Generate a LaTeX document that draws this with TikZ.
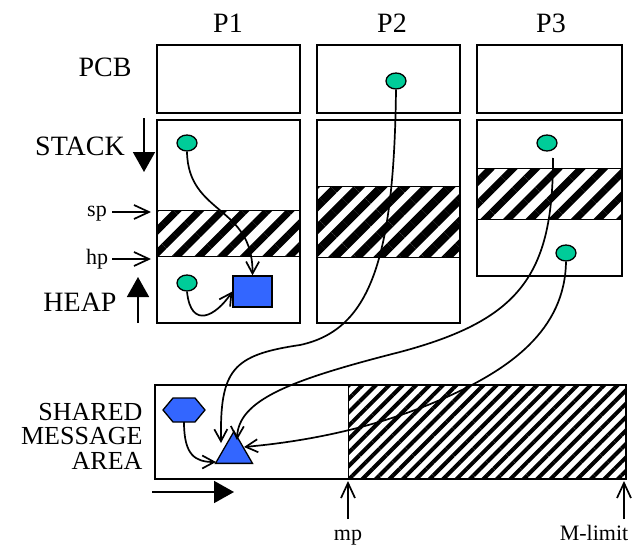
\documentclass[tikz,border=0pt]{standalone}
\usepackage{fontspec}
\setmainfont{Liberation Serif}
\usetikzlibrary{arrows.meta,patterns.meta,shapes.geometric}
\definecolor{dotgreen}{RGB}{0,204,153}
\definecolor{boxblue}{RGB}{51,102,255}

\begin{document}
\begin{tikzpicture}[x=1pt,y=-1pt,
  biglabel/.style={font=\fontsize{28}{32}\selectfont, anchor=base},
  arealabel/.style={font=\fontsize{26}{30}\selectfont, anchor=base east},
  smalllabel/.style={font=\fontsize{22}{26}\selectfont, anchor=base},
  pbox/.style={line width=2.6pt},
  pcbbox/.style={line width=1.6pt},
  sepline/.style={line width=0.8pt},
  wide hatch/.style={pattern={Lines[angle=45,distance=16pt,line width=7pt]}},
  bold hatch/.style={pattern={Lines[angle=45,distance=16pt,line width=8.5pt]}},
  fine hatch/.style={pattern={Lines[angle=45,distance=9.5pt,line width=4pt]}},
  ptrdot/.style={ellipse, draw, line width=1.3pt, fill=dotgreen,
    minimum width=20pt, minimum height=16pt, inner sep=0pt},
  link/.style={line width=1.7pt, -{Straight Barb[length=12pt,width=13pt]}},
  pointer/.style={line width=1.7pt, -{Straight Barb[length=15pt,width=14pt]}},
  growth/.style={line width=1.8pt, -{Triangle[length=20pt,width=22pt]}}]
  \useasboundingbox (0,0) rectangle (633,546);

  \node[biglabel] (lP1) at (228,32) {P1};
  \node[biglabel] (lP2) at (392,32) {P2};
  \node[biglabel] (lP3) at (551,32) {P3};
  \node[biglabel] (lPCB) at (105,76) {PCB};
  \node[biglabel] (lSTACK) at (80,155) {STACK};
  \node[biglabel] (lHEAP) at (80,311) {HEAP};
  \node[smalllabel] (lsp) at (97,216) {sp};
  \node[smalllabel] (lhp) at (97,264) {hp};
  \node[arealabel] (lSH) at (146,420) {SHARED};
  \node[arealabel] (lME) at (146,444) {MESSAGE};
  \node[arealabel] (lAR) at (146,469) {AREA};
  \node[smalllabel] (lmp) at (348,540) {mp};
  \node[smalllabel] (lML) at (594,540) {M-limit};

  % free areas
  \fill[wide hatch] (157,210) rectangle (300,256);
  \fill[bold hatch] (317,186) rectangle (460,257);
  \fill[wide hatch] (477,168) rectangle (622,219);
  \fill[fine hatch] (348,385) rectangle (626,479);

  \draw[pcbbox] (157,45) rectangle (300,113);
  \draw[pcbbox] (317,45) rectangle (460,113);
  \draw[pcbbox] (477,45) rectangle (622,113);

  \draw[pbox] (157,120) rectangle (300,323);
  \draw[pbox] (317,120) rectangle (460,323);
  \draw[pbox] (477,120) rectangle (622,276);
  \draw[sepline] (157,210) -- (300,210);
  \draw[sepline] (157,256) -- (300,256);
  \draw[sepline] (317,186) -- (460,186);
  \draw[sepline] (317,257) -- (460,257);
  \draw[sepline] (477,168) -- (622,168);
  \draw[sepline] (477,219) -- (622,219);

  \draw[pbox] (155,385) rectangle (626,479);
  \draw[sepline] (348,385) -- (348,479);

  \coordinate (stackA) at (144,118);
  \coordinate (stackB) at (144,172);
  \coordinate (heapA) at (138,323);
  \coordinate (heapB) at (138,277);
  \coordinate (msgA) at (152,492);
  \coordinate (msgB) at (234,492);
  \draw[growth] (stackA) -- (stackB);
  \draw[growth] (heapA) -- (heapB);
  \draw[growth] (msgA) -- (msgB);

  \coordinate (spA) at (112,212);
  \coordinate (spB) at (151,212);
  \coordinate (hpA) at (112,259);
  \coordinate (hpB) at (151,259);
  \coordinate (mpA) at (348,519);
  \coordinate (mpB) at (348,481);
  \coordinate (mlA) at (624,519);
  \coordinate (mlB) at (624,481);
  \draw[pointer] (spA) -- (spB);
  \draw[pointer] (hpA) -- (hpB);
  \draw[pointer] (mpA) -- (mpB);
  \draw[pointer] (mlA) -- (mlB);

  \node[ptrdot] (d1) at (187,143) {};
  \node[ptrdot] (d2) at (187,283) {};
  \node[ptrdot] (d3) at (396,81) {};
  \node[ptrdot] (d4) at (547,143) {};
  \node[ptrdot] (d5) at (566,253) {};
  \node[draw, line width=1.3pt, fill=boxblue, minimum width=39pt,
    minimum height=31pt, inner sep=0pt] (sq) at (252.5,291.5) {};
  \node[regular polygon, regular polygon sides=3, draw, line width=1.3pt,
    fill=boxblue, minimum size=42.7pt, inner sep=0pt] (tri) at (234,452.7) {};
  \draw[line width=1.3pt, fill=boxblue] (163,410) -- (173,398) -- (195,398)
    -- (205,410) -- (195,422) -- (173,422) -- cycle;

  \coordinate (hexS) at (184,422);
  \coordinate (s4) at (553,158);
  \coordinate (t1) at (221,443);
  \coordinate (t2) at (237,440);
  \coordinate (t3) at (244,447);
  \coordinate (t4) at (216,462);

  \draw[link] (d1.south) .. controls (188,215) and (253,205) .. (sq.north);
  \draw[link] (d2.south) .. controls (191,330) and (216,316) .. (sq.west);
  \draw[link] (d3.south) .. controls (394,260) and (370,330) .. (300,345)
    .. controls (232,355) and (220,370) .. (t1);
  \draw[link] (s4) .. controls (553,275) and (520,320) .. (400,352)
    .. controls (290,380) and (238,400) .. (t2);
  \draw[link] (d5.south) .. controls (565,330) and (510,370) .. (440,400)
    .. controls (370,430) and (300,442) .. (t3);
  \draw[link] (hexS) .. controls (184,455) and (195,462) .. (t4);
\end{tikzpicture}
\end{document}
